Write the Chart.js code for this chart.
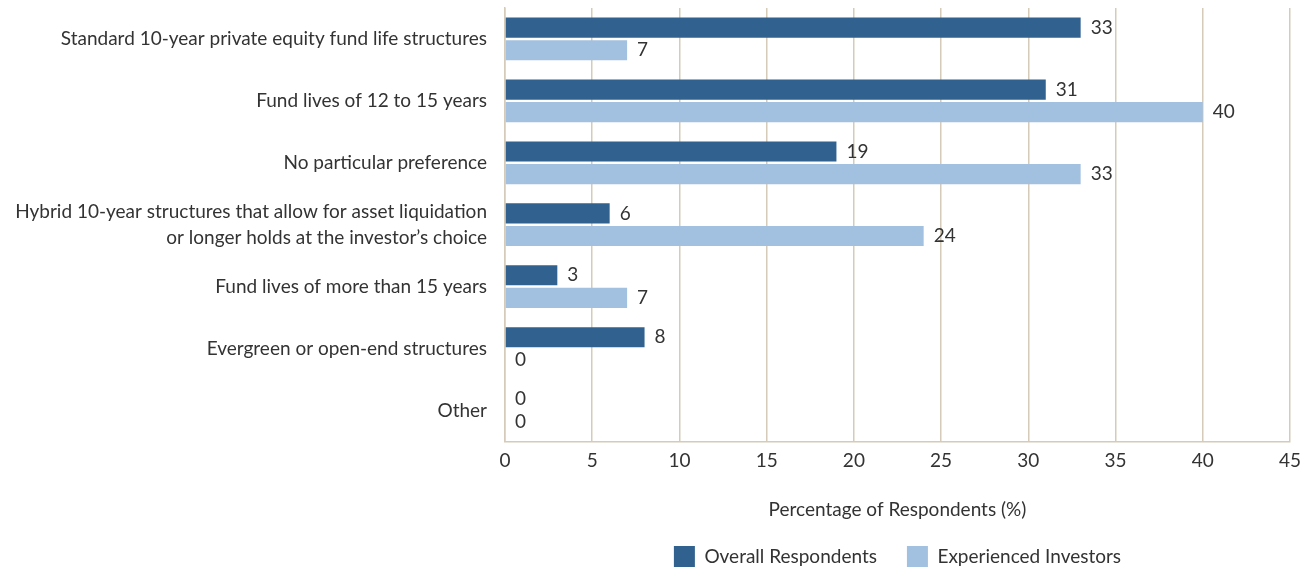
<!DOCTYPE html>
<html>
<head>
<meta charset="utf-8">
<script src="https://cdn.jsdelivr.net/npm/chart.js@4/dist/chart.umd.min.js"></script>
<style>
  html, body { margin: 0; padding: 0; background: #fff; }
  #wrap { width: 1309px; height: 568px; }
</style>
</head>
<body>
<div id="wrap"><canvas id="fundLifeChart"></canvas></div>
<script>
const categories = [
  "Standard 10-year private equity fund life structures",
  "Fund lives of 12 to 15 years",
  "No particular preference",
  ["Hybrid 10-year structures that allow for asset liquidation", "or longer holds at the investor\u2019s choice"],
  "Fund lives of more than 15 years",
  "Evergreen or open-end structures",
  "Other",
];
const overallRespondents = [33, 31, 19, 6, 3, 8, 0];
const experiencedInvestors = [7, 40, 33, 24, 7, 0, 0];
const xTicks = [0, 5, 10, 15, 20, 25, 30, 35, 40, 45];

const FONT = "Lato, 'Open Sans', sans-serif";
const SIZE = 19;
const TEXT = "#333333";
const GRID = "#d6cbb8";

// writes each bar's value just past its end
const barValues = {
  id: "barValues",
  afterDatasetsDraw(chart) {
    const ctx = chart.ctx;
    ctx.save();
    ctx.font = SIZE + "px " + FONT;
    ctx.fillStyle = TEXT;
    ctx.textAlign = "left";
    ctx.textBaseline = "middle";
    chart.data.datasets.forEach((ds, i) => {
      chart.getDatasetMeta(i).data.forEach((bar, j) => {
        ctx.fillText(String(ds.data[j]), bar.x + 10, bar.y);
      });
    });
    ctx.restore();
  },
};

// keep the legend short (its label padding is only wanted sideways)
// and center it under the plot area instead of the whole canvas
const legendUnderPlot = {
  id: "legendUnderPlot",
  beforeLayout(chart) {
    const lg = chart.legend;
    if (lg && !lg._shortFit) {
      const fit = lg.fit;
      lg.fit = function () {
        fit.call(this);
        this.height = 47;
      };
      lg._shortFit = true;
    }
  },
  afterLayout(chart) {
    const lg = chart.legend;
    const area = chart.chartArea;
    lg.left = area.left;
    lg.right = area.right;
    lg.width = area.right - area.left;
    lg.top -= 5;
  },
};

new Chart(document.getElementById("fundLifeChart"), {
  type: "bar",
  data: {
    labels: categories,
    datasets: [
      {
        label: "Overall Respondents",
        data: overallRespondents,
        backgroundColor: "#31628f",
        categoryPercentage: 0.73,
        barPercentage: 0.89,
      },
      {
        label: "Experienced Investors",
        data: experiencedInvestors,
        backgroundColor: "#a2c0df",
        categoryPercentage: 0.73,
        barPercentage: 0.89,
      },
    ],
  },
  options: {
    indexAxis: "y",
    responsive: true,
    maintainAspectRatio: false,
    animation: false,
    layout: { padding: { top: 8, right: 18, left: 0, bottom: 0 } },
    scales: {
      x: {
        min: 0,
        max: 45,
        afterBuildTicks(scale) {
          scale.ticks = xTicks.map((v) => ({ value: v }));
        },
        grid: { color: GRID, lineWidth: 1.5, drawTicks: false },
        border: { color: GRID, width: 1.5 },
        ticks: { color: TEXT, font: { family: FONT, size: SIZE }, padding: 8 },
        title: {
          display: true,
          text: "Percentage of Respondents (%)",
          color: TEXT,
          font: { family: FONT, size: SIZE },
          padding: { top: 18, bottom: 0 },
        },
      },
      y: {
        afterFit(scale) {
          scale.width = 505;
          scale.paddingTop = 0;
          scale.paddingBottom = 0;
        },
        grid: { display: false, drawTicks: false },
        border: { color: GRID, width: 1.5 },
        ticks: { color: TEXT, font: { family: FONT, size: SIZE, lineHeight: 1.37 }, padding: 18 },
      },
    },
    plugins: {
      legend: {
        position: "bottom",
        labels: {
          color: TEXT,
          font: { family: FONT, size: SIZE },
          boxWidth: 21,
          boxHeight: 21,
          padding: 30,
        },
      },
      tooltip: { enabled: false },
    },
  },
  plugins: [barValues, legendUnderPlot],
});
</script>
</body>
</html>
